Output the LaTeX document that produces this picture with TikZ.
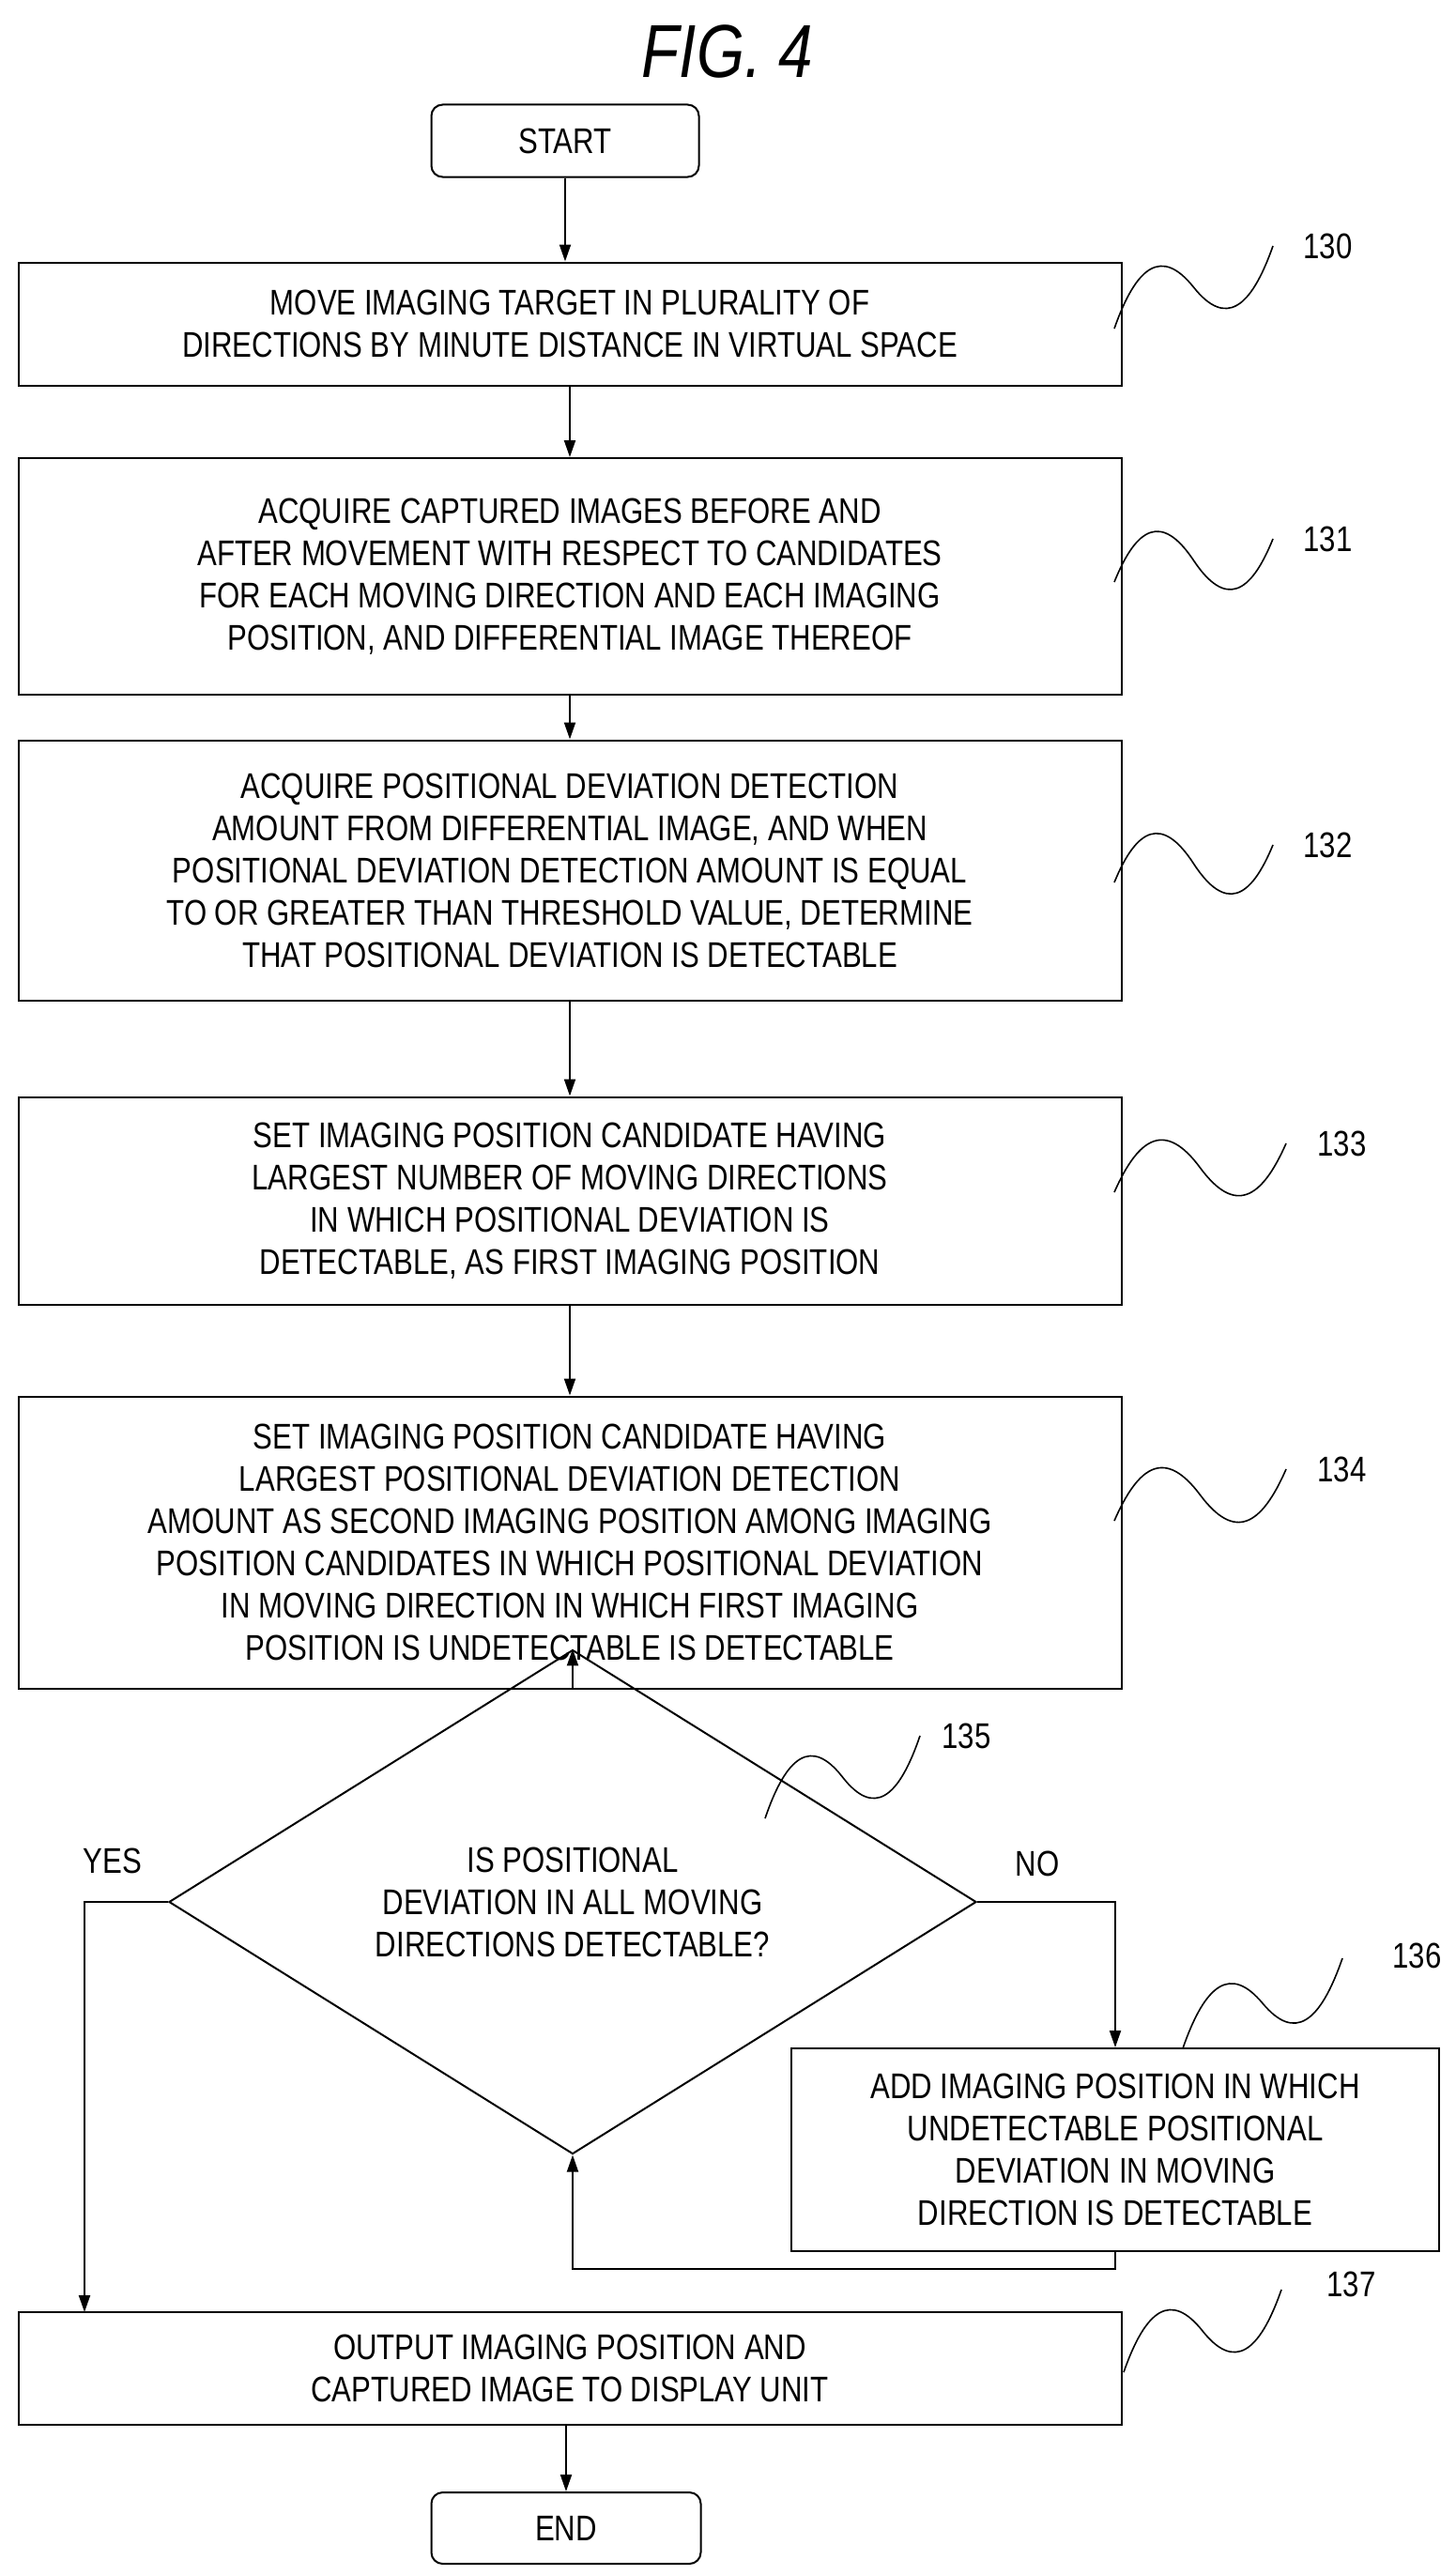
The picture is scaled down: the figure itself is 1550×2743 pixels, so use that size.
\documentclass[tikz,border=0pt]{standalone}
\usepackage{fontspec}
\setmainfont{Liberation Sans}[FakeStretch=0.82]
\usetikzlibrary{shapes.geometric,arrows.meta}
\begin{document}
\begin{tikzpicture}[x=1pt,y=-1pt,
  box/.style={draw,line width=2pt,align=center,font=\fontsize{38}{45}\selectfont,inner sep=0pt},
  term/.style={box,rounded corners=12pt},
  arr/.style={line width=2pt,-{Triangle[length=18pt,width=12pt]}},
  sq/.style={line width=1.6pt},
  lab/.style={font=\fontsize{38}{45}\selectfont}]
\useasboundingbox (0,0) rectangle (1550,2743);
\node[font=\itshape\fontsize{80}{90}\selectfont] (title) at (775,55) {FIG. 4};
\node[term,minimum width=285pt,minimum height=77pt] (start) at (602,150) {START};
\node[box,minimum width=1175pt,minimum height=131pt] (b130) at (607,345) {MOVE IMAGING TARGET IN PLURALITY OF\\DIRECTIONS BY MINUTE DISTANCE IN VIRTUAL SPACE};
\node[box,minimum width=1175pt,minimum height=252pt] (b131) at (607,614) {ACQUIRE CAPTURED IMAGES BEFORE AND\\AFTER MOVEMENT WITH RESPECT TO CANDIDATES\\FOR EACH MOVING DIRECTION AND EACH IMAGING\\POSITION, AND DIFFERENTIAL IMAGE THEREOF};
\node[box,minimum width=1175pt,minimum height=277pt] (b132) at (607,927) {ACQUIRE POSITIONAL DEVIATION DETECTION\\AMOUNT FROM DIFFERENTIAL IMAGE, AND WHEN\\POSITIONAL DEVIATION DETECTION AMOUNT IS EQUAL\\TO OR GREATER THAN THRESHOLD VALUE, DETERMINE\\THAT POSITIONAL DEVIATION IS DETECTABLE};
\node[box,minimum width=1175pt,minimum height=221pt] (b133) at (607,1279) {SET IMAGING POSITION CANDIDATE HAVING\\LARGEST NUMBER OF MOVING DIRECTIONS\\IN WHICH POSITIONAL DEVIATION IS\\DETECTABLE, AS FIRST IMAGING POSITION};
\node[box,minimum width=1175pt,minimum height=311pt] (b134) at (607,1643) {SET IMAGING POSITION CANDIDATE HAVING\\LARGEST POSITIONAL DEVIATION DETECTION\\AMOUNT AS SECOND IMAGING POSITION AMONG IMAGING\\POSITION CANDIDATES IN WHICH POSITIONAL DEVIATION\\IN MOVING DIRECTION IN WHICH FIRST IMAGING\\POSITION IS UNDETECTABLE IS DETECTABLE};
\node[draw,diamond,line width=2pt,minimum width=860pt,minimum height=325pt,inner sep=0pt,align=center,font=\fontsize{38}{45}\selectfont] (d135) at (610,2026) {IS POSITIONAL\\DEVIATION IN ALL MOVING\\DIRECTIONS DETECTABLE?};
\node[box,minimum width=690pt,minimum height=216pt] (b136) at (1188,2290) {ADD IMAGING POSITION IN WHICH\\UNDETECTABLE POSITIONAL\\DEVIATION IN MOVING\\DIRECTION IS DETECTABLE};
\node[box,minimum width=1175pt,minimum height=120pt] (b137) at (607,2523) {OUTPUT IMAGING POSITION AND\\CAPTURED IMAGE TO DISPLAY UNIT};
\node[term,minimum width=287pt,minimum height=76pt] (end) at (603,2693) {END};
\draw[arr] (start) -- (start|-b130.north);
\draw[arr] (b130) -- (b130.south|-b131.north);
\draw[arr] (b131) -- (b131.south|-b132.north);
\draw[arr] (b132) -- (b132.south|-b133.north);
\draw[arr] (b133) -- (b133.south|-b134.north);
\draw[arr] (b134.south-|d135.north) -- (d135.north);
\coordinate (yc) at (90,2463);
\draw[arr] (d135.west) -| (yc);
\draw[arr] (d135.east) -| (b136.north);
\coordinate (lp) at (1188,2417);
\draw[arr] (b136.south) -- (lp) -| (d135.south);
\draw[arr] (b137.south-|end.north) -- (end.north);
\node[lab] (yes) at (120,1982) {YES};
\node[lab] (no) at (1105,1985) {NO};
\node[lab,anchor=west] (l130) at (1385,262) {130};
\node[lab,anchor=west] (l131) at (1385,574) {131};
\node[lab,anchor=west] (l132) at (1385,900) {132};
\node[lab,anchor=west] (l133) at (1400,1218) {133};
\node[lab,anchor=west] (l134) at (1400,1565) {134};
\node[lab,anchor=west] (l135) at (1000,1849) {135};
\node[lab,anchor=west] (l136) at (1480,2083) {136};
\node[lab,anchor=west] (l137) at (1410,2433) {137};
\foreach \ax/\ay/\bx/\by in {1187/350/1356/262,1187/620/1356/574,1187/940/1356/900,1187/1270/1370/1218,1187/1620/1370/1565,815/1937/980/1849,1260/2182/1430/2086,1197/2527/1365/2439}{
  \pgfmathsetmacro\dx{\bx-\ax}\pgfmathsetmacro\dy{\by-\ay}
  \pgfmathsetmacro\cax{\ax+0.2*\dx-10}\pgfmathsetmacro\cay{\ay+0.2*\dy-50}
  \pgfmathsetmacro\cbx{\ax+0.3*\dx}\pgfmathsetmacro\cby{\ay+0.3*\dy-60}
  \pgfmathsetmacro\mx{\ax+0.5*\dx}\pgfmathsetmacro\my{\ay+0.5*\dy}
  \pgfmathsetmacro\ccx{\ax+0.7*\dx}\pgfmathsetmacro\ccy{\ay+0.7*\dy+60}
  \pgfmathsetmacro\cdx{\ax+0.8*\dx+10}\pgfmathsetmacro\cdy{\ay+0.8*\dy+50}
  \draw[sq] (\ax,\ay) .. controls (\cax,\cay) and (\cbx,\cby) .. (\mx,\my) .. controls (\ccx,\ccy) and (\cdx,\cdy) .. (\bx,\by);}
\end{tikzpicture}
\end{document}
